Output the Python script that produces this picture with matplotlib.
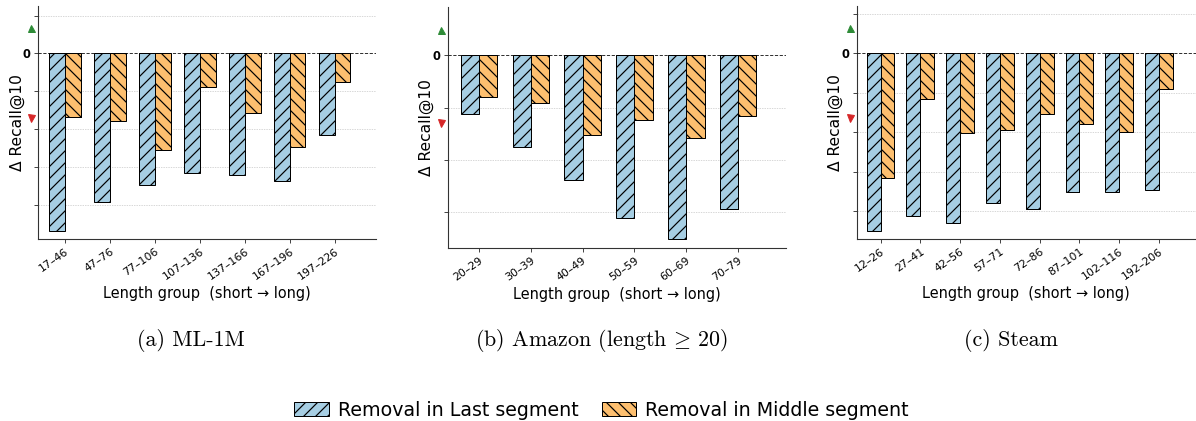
import numpy as np
import matplotlib
matplotlib.use("Agg")
import matplotlib.pyplot as plt
import matplotlib.patheffects as pe
from matplotlib.patches import Patch

plt.rcParams['mathtext.fontset'] = 'cm'
plt.rcParams['hatch.linewidth'] = 1.2

# Delta Recall@10 (in grid-step units, tick labels are hidden in the source)
ml_groups = ["17–46", "47–76", "77–106", "107–136", "137–166", "167–196", "197–226"]
ml_last = [-4.69, -3.92, -3.47, -3.14, -3.21, -3.37, -2.14]
ml_middle = [-1.68, -1.79, -2.54, -0.89, -1.56, -2.46, -0.76]

amz_groups = ["20–29", "30–39", "40–49", "50–59", "60–69", "70–79"]
amz_last = [-1.13, -1.76, -2.39, -3.12, -3.52, -2.94]
amz_middle = [-0.80, -0.92, -1.53, -1.24, -1.58, -1.17]

steam_groups = ["12–26", "27–41", "42–56", "57–71", "72–86", "87–101", "102–116", "192–206"]
steam_last = [-4.51, -4.13, -4.30, -3.79, -3.93, -3.51, -3.50, -3.45]
steam_middle = [-3.15, -1.15, -2.02, -1.93, -1.53, -1.79, -2.00, -0.91]

captions = ["(a) ML-1M", r"(b) Amazon (length$\,\geq\,$20)", "(c) Steam"]

c_last = "#a6cee3"
c_mid = "#fdbf6f"

DPI = 72
fig = plt.figure(figsize=(1196 / DPI, 421 / DPI), dpi=DPI)

panels = [
    (ml_groups, ml_last, ml_middle, [0.0318, 0.4323, 0.2826, 0.5534], (-4.89, 1.25)),
    (amz_groups, amz_last, amz_middle, [0.3743, 0.4109, 0.2829, 0.5730], (-3.69, 0.93)),
    (steam_groups, steam_last, steam_middle, [0.7163, 0.4323, 0.2834, 0.5534], (-4.70, 1.20)),
]
cap_x = [0.160, 0.503, 0.845]

shadow = [pe.SimplePatchShadow(offset=(1, -1), alpha=0.35), pe.Normal()]

for i, (groups, last, mid, pos, ylim) in enumerate(panels):
    ax = fig.add_axes(pos)
    x = np.arange(len(groups))
    w = 0.35
    b1 = ax.bar(x - w / 2, last, w, color=c_last, edgecolor="black", linewidth=1.0,
                hatch="//", zorder=3)
    b2 = ax.bar(x + w / 2, mid, w, color=c_mid, edgecolor="black", linewidth=1.0,
                hatch="\\\\", zorder=3)
    for p in list(b1) + list(b2):
        p.set_path_effects(shadow)

    ax.set_ylim(*ylim)
    ax.set_xlim(-0.6, len(groups) - 1 + 0.92)
    yt = np.arange(np.ceil(ylim[0]), np.floor(ylim[1]) + 1)
    ax.set_yticks(yt)
    ax.set_yticklabels(["0" if v == 0 else "" for v in yt], fontsize=11.5, fontweight="bold")
    for v in yt:
        if v != 0:
            ax.axhline(v, color="#c8c8c8", lw=0.7, ls=(0, (2, 1.5)), zorder=0)
    ax.axhline(0, color="black", lw=0.8, ls=(0, (4, 2)), zorder=4)

    ax.set_xticks(x)
    ax.set_xticklabels(groups, rotation=35, ha="right", rotation_mode="anchor", fontsize=11)
    ax.tick_params(axis="both", length=4, width=0.9, color="#333333")
    for s in ["top", "right"]:
        ax.spines[s].set_visible(False)
    for s in ["left", "bottom"]:
        ax.spines[s].set_color("#333333")
        ax.spines[s].set_linewidth(1.1)

    ax.set_ylabel("Δ Recall@10", fontsize=15.5, labelpad=-2)
    ax.set_xlabel("Length group  (short → long)", fontsize=14.5)

    ax.plot([-0.021], [0.905], marker="^", color="#2e8b37", markersize=7,
            transform=ax.transAxes, clip_on=False, linestyle="none")
    ax.plot([-0.021], [0.519], marker="v", color="#d62728", markersize=7,
            transform=ax.transAxes, clip_on=False, linestyle="none")

    fig.text(cap_x[i], 0.192, captions[i], ha="center", va="center",
             fontsize=22, family="cmr10")

handles = [Patch(facecolor=c_last, edgecolor="black", hatch="//", label="Removal in Last segment"),
           Patch(facecolor=c_mid, edgecolor="black", hatch="\\\\", label="Removal in Middle segment")]
fig.legend(handles=handles, loc="center", bbox_to_anchor=(0.503, 0.026), ncol=2,
           frameon=False, fontsize=19, handlelength=1.8, handletextpad=0.5,
           columnspacing=1.2)

fig.savefig("out.png", dpi=DPI)
